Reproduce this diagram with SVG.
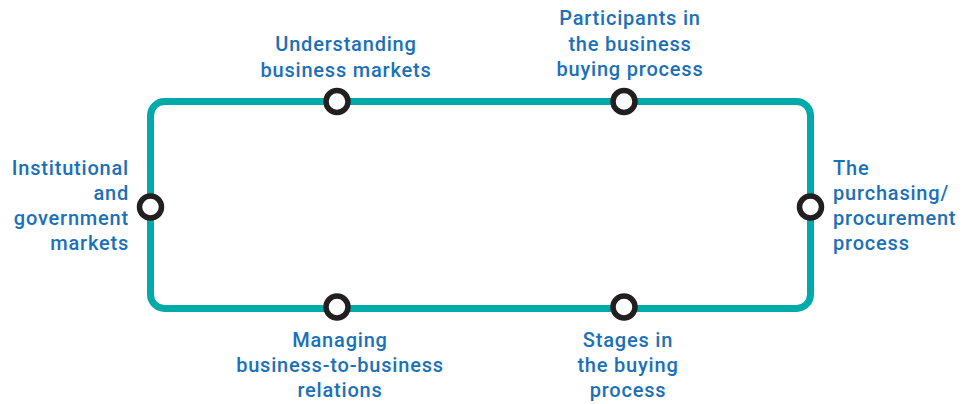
<svg xmlns="http://www.w3.org/2000/svg" width="969" height="404" viewBox="0 0 969 404">
<style>
.track{fill:none;stroke:#00AAA9;stroke-width:7}
.stop{fill:#fff;stroke:#231F20;stroke-width:5.5}
text{font-family:Roboto,"Liberation Sans",sans-serif;font-size:20px;letter-spacing:0.8px;fill:#1B70B8;font-weight:500}
.c{text-anchor:middle}.r{text-anchor:end}
</style>
<rect width="969" height="404" fill="#fff"/>
<g id="connectors">
<rect class="track" x="150.5" y="101.5" width="660" height="207" rx="14"/>
</g>
<g id="understanding">
<circle class="stop" cx="337" cy="101.5" r="11"/>
<text class="c" x="346" y="51">Understanding</text>
<text class="c" x="346" y="77">business markets</text>
</g>
<g id="participants">
<circle class="stop" cx="624" cy="101.5" r="11"/>
<text class="c" x="630" y="25">Participants in</text>
<text class="c" x="630" y="51">the business</text>
<text class="c" x="630" y="76">buying process</text>
</g>
<g id="purchasing">
<circle class="stop" cx="810.5" cy="207" r="11"/>
<text x="833" y="175">The</text>
<text x="833" y="200">purchasing/</text>
<text x="833" y="225">procurement</text>
<text x="833" y="250">process</text>
</g>
<g id="stages">
<circle class="stop" cx="624" cy="307" r="11"/>
<text class="c" x="628" y="347">Stages in</text>
<text class="c" x="628" y="372">the buying</text>
<text class="c" x="628" y="397">process</text>
</g>
<g id="managing">
<circle class="stop" cx="337" cy="307" r="11"/>
<text class="c" x="340" y="347">Managing</text>
<text class="c" x="340" y="372">business-to-business</text>
<text class="c" x="340" y="397">relations</text>
</g>
<g id="institutional">
<circle class="stop" cx="150.5" cy="207" r="11"/>
<text class="r" x="129" y="175">Institutional</text>
<text class="r" x="129" y="200">and</text>
<text class="r" x="129" y="225">government</text>
<text class="r" x="129" y="250">markets</text>
</g>
</svg>
